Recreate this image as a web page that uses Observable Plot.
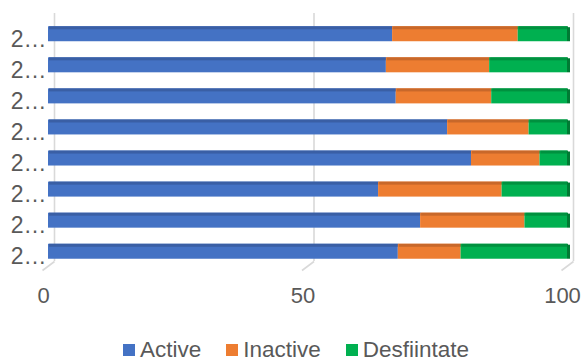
<!DOCTYPE html>
<html>
<head>
<meta charset="utf-8">
<script src="https://cdn.jsdelivr.net/npm/d3@7"></script>
<script src="https://cdn.jsdelivr.net/npm/@observablehq/plot@0.6"></script>
<style>
  html, body { margin: 0; padding: 0; background: #fff; overflow: hidden; }
  body { width: 581px; height: 363px; font-family: "Liberation Sans", Arial, sans-serif; }
  #legend { display: flex; align-items: center; margin-top: 19px; margin-left: 123px; height: 22px;
            font-size: 22.5px; color: #595959; line-height: 22px; white-space: nowrap; }
  .item { display: flex; align-items: center; margin-right: 25px; }
  .sw { width: 12px; height: 12px; margin-right: 5px; }
</style>
</head>
<body>
<div id="chart"></div>
<div id="legend"></div>
<script>
// Categories, top row first (labels are truncated in the original)
const categories = ["2…", "2…", "2…", "2…", "2…", "2…", "2…", "2…"];
const series = ["Active", "Inactive", "Desfiintate"];
const active      = [66.3, 65.1, 67.0, 76.9, 81.5, 63.6, 71.7, 67.4];
const inactive    = [24.2, 19.9, 18.4, 15.7, 13.2, 23.8, 20.1, 12.1];
const desfiintate = [ 9.5, 15.0, 14.6,  7.4,  5.3, 12.6,  8.2, 20.5];
const xTicks = [0, 50, 100];

const colors    = ["#4472C4", "#ED7D31", "#00B050"];
const topColors = ["#3A5FA5", "#C8682A", "#00913F"];

const n = categories.length;
const values = [active, inactive, desfiintate];
const rows = [];
categories.forEach((c, r) => {
  let acc = 0;
  values.forEach((arr, s) => {
    rows.push({pos: n - 1 - r, series: s, x1: acc, x2: acc + arr[r]});
    acc += arr[r];
  });
});
const totals = categories.map((c, r) => ({pos: n - 1 - r, total: active[r] + inactive[r] + desfiintate[r]}));

const half = 0.241, strip = 0.097;
const depthPx = 6, pxPerUnit = 519 / 100;
const grid = "#d9d9d9";

const marks = [
  Plot.ruleX(xTicks, {y1: -0.314, y2: 7.668, dx: depthPx, stroke: grid, strokeWidth: 1.6}),
  Plot.link(xTicks, {x1: d => d + depthPx / pxPerUnit, x2: d => d - depthPx / pxPerUnit,
                     y1: -0.314, y2: -0.603, stroke: grid, strokeWidth: 1.6}),
];
series.forEach((s, i) => {
  const seg = rows.filter(d => d.series === i);
  marks.push(Plot.rectX(seg, {x1: "x1", x2: "x2", y1: d => d.pos - half, y2: d => d.pos + half, fill: colors[i]}));
  marks.push(Plot.rectX(seg, {x1: "x1", x2: "x2", y1: d => d.pos + half - strip, y2: d => d.pos + half, fill: topColors[i], dx: 1}));
});
marks.push(Plot.rect(totals, {x1: "total", x2: "total", y1: d => d.pos - half, y2: d => d.pos + half - 0.03,
                              insetRight: -3, fill: "#007A33"}));
marks.push(Plot.axisX({ticks: xTicks, tickSize: 0, tickPadding: 14, dx: -5, fontSize: 22, color: "#595959", tickFormat: d => String(d)}));
marks.push(Plot.axisY({ticks: d3.range(n), tickSize: 0, tickPadding: 2, dy: 5, fontSize: 23, color: "#595959",
                       tickFormat: i => categories[n - 1 - i]}));

const chart = Plot.plot({
  width: 581,
  height: 320,
  marginLeft: 48,
  marginRight: 14,
  marginTop: 12,
  marginBottom: 47,
  style: {fontFamily: "'Liberation Sans', Arial, sans-serif", background: "#fff", overflow: "visible"},
  x: {domain: [0, 100]},
  y: {domain: [-0.7, 7.7]},
  marks
});
document.getElementById("chart").appendChild(chart);

const legend = document.getElementById("legend");
series.forEach((s, i) => {
  const it = document.createElement("div");
  it.className = "item";
  const sw = document.createElement("span");
  sw.className = "sw";
  sw.style.background = colors[i];
  const t = document.createElement("span");
  t.textContent = s;
  it.appendChild(sw); it.appendChild(t);
  legend.appendChild(it);
});
</script>
</body>
</html>
